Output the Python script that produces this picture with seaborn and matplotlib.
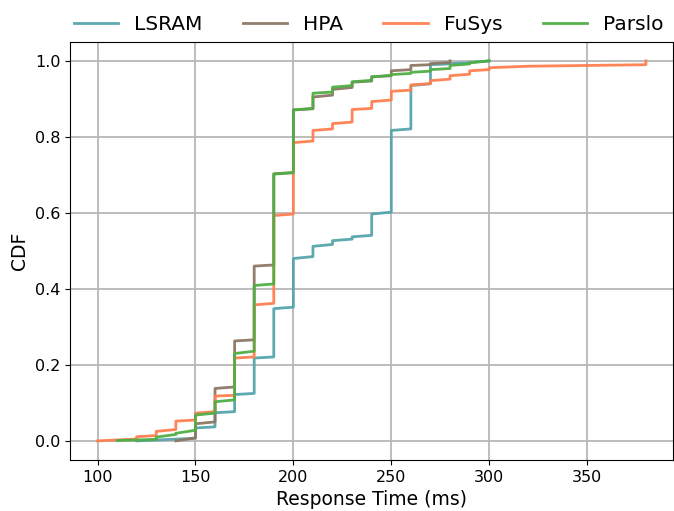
import numpy as np
import pandas as pd
import matplotlib
matplotlib.use("Agg")
import matplotlib.pyplot as plt
import seaborn as sns

# ---- data: step CDFs (jump times, value right after jump, value just before next jump)
lsram_t = [120, 150, 160, 170, 180, 190, 200, 210, 220, 230, 240, 250, 260, 270, 280, 290, 300]
lsram_s = [0.000, 0.034, 0.074, 0.122, 0.218, 0.348, 0.480, 0.512, 0.527, 0.537, 0.597, 0.817, 0.935, 0.990, 0.993, 0.996]
lsram_e = [0.007, 0.037, 0.077, 0.125, 0.221, 0.352, 0.485, 0.517, 0.531, 0.541, 0.602, 0.821, 0.940, 0.992, 0.995, 1.000]

hpa_t = [140, 150, 160, 170, 180, 190, 200, 210, 220, 230, 240, 250, 260, 270, 280]
hpa_s = [0.000, 0.045, 0.138, 0.263, 0.460, 0.703, 0.871, 0.905, 0.925, 0.944, 0.958, 0.974, 0.988, 0.993]
hpa_e = [0.008, 0.050, 0.142, 0.266, 0.463, 0.706, 0.874, 0.910, 0.930, 0.947, 0.961, 0.977, 0.990, 0.996]

fusys_t = [100, 120, 130, 140, 150, 160, 170, 180, 190, 200, 210, 220, 230, 240, 250, 260, 270, 280, 290, 300, 320, 380]
fusys_s = [0.000, 0.011, 0.025, 0.052, 0.073, 0.118, 0.218, 0.358, 0.593, 0.785, 0.817, 0.835, 0.872, 0.893, 0.920, 0.937, 0.948, 0.961, 0.974, 0.982, 0.986]
fusys_e = [0.005, 0.014, 0.030, 0.055, 0.077, 0.120, 0.221, 0.362, 0.597, 0.789, 0.821, 0.839, 0.875, 0.897, 0.923, 0.940, 0.952, 0.965, 0.977, 0.986, 0.990]

parslo_t = [110, 130, 140, 150, 160, 170, 180, 190, 200, 210, 220, 230, 240, 250, 260, 270, 280, 290, 300]
parslo_s = [0.001, 0.010, 0.020, 0.068, 0.103, 0.230, 0.409, 0.702, 0.871, 0.915, 0.931, 0.945, 0.958, 0.964, 0.970, 0.977, 0.988, 0.995]
parslo_e = [0.004, 0.017, 0.028, 0.073, 0.108, 0.236, 0.413, 0.706, 0.875, 0.918, 0.935, 0.949, 0.962, 0.967, 0.973, 0.980, 0.992, 1.000]

names = ["LSRAM", "HPA", "FuSys", "Parslo"]
colors = ["#55a5ac", "#8c7763", "#ff7f50", "#4fae44"]


def step_path(t, s, e):
    xs, ys = [], []
    prev = None
    for i in range(len(s)):
        if prev is not None:
            xs.append(t[i]); ys.append(prev)
        xs.append(t[i]); ys.append(s[i])
        xs.append(t[i + 1]); ys.append(e[i])
        prev = e[i]
    xs.append(t[-1]); ys.append(1.0)
    return xs, ys


frames = []
for name, (t, s, e) in zip(names, [(lsram_t, lsram_s, lsram_e), (hpa_t, hpa_s, hpa_e),
                                   (fusys_t, fusys_s, fusys_e), (parslo_t, parslo_s, parslo_e)]):
    xs, ys = step_path(t, s, e)
    frames.append(pd.DataFrame({"x": xs, "y": ys, "order": np.arange(len(xs)), "method": name}))
df = pd.concat(frames, ignore_index=True)

fig = plt.figure(figsize=(6.74, 5.11), dpi=100)
ax = fig.add_axes([0.104, 0.1, 0.895, 0.818])

sns.lineplot(data=df, x="x", y="y", hue="method", hue_order=names, palette=colors,
             sort=False, estimator=None, units="method", linewidth=2, alpha=0.95, ax=ax)

ax.grid(True, color="#b8b8b8", linewidth=1.3)
ax.set_axisbelow(True)
ax.set_xlabel("Response Time (ms)", fontsize=13.5)
ax.set_ylabel("CDF", fontsize=13.5)
ax.tick_params(labelsize=11.5)
ax.set_xticks([100, 150, 200, 250, 300, 350])
ax.set_yticks([0.0, 0.2, 0.4, 0.6, 0.8, 1.0])
ax.margins(x=0.05, y=0.05)

handles, labels = ax.get_legend_handles_labels()
ax.legend(handles, labels, loc="lower center", bbox_to_anchor=(0.495, 1.0), ncol=4,
          frameon=False, fontsize=14.5, handlelength=2.2, columnspacing=2.0,
          borderaxespad=0)

fig.savefig("out.png", dpi=100)
